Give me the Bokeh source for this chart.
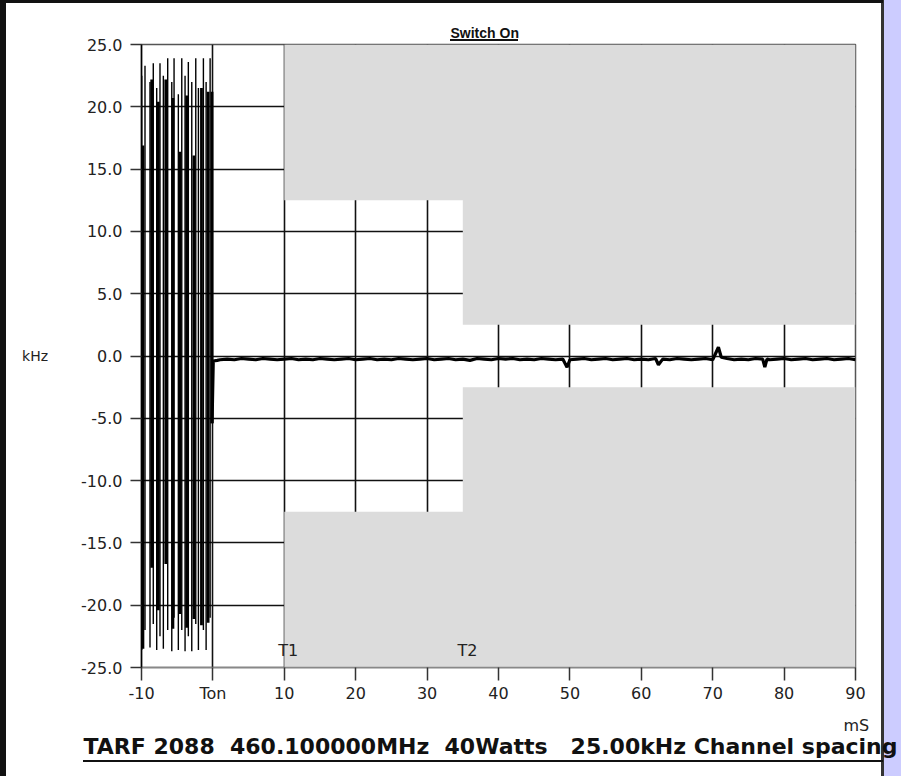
from bokeh.plotting import figure
from bokeh.models import Label, Range1d, FixedTicker, NumeralTickFormatter, Title, InlineStyleSheet
from bokeh.embed import file_html
from bokeh.resources import INLINE

# ---------------- data ----------------
# display columns of the oscillation before switch-on (ms, kHz): min/max per column
bar_t  = [-9.80, -8.57, -7.64, -6.60, -5.60, -4.61, -3.67, -2.66, -1.60, -0.67, -0.12]
bar_lo = [-23.5, -17.0, -20.4, -16.7, -21.9, -20.7, -21.8, -21.1, -21.6, -21.4, -5.4]
bar_hi = [16.9, 22.2, 20.4, 22.2, 20.7, 16.4, 20.9, 16.1, 21.5, 21.2, 21.2]

peak_t  = [-9.51, -8.35, -7.41, -6.33, -5.44, -4.36, -3.44, -2.40, -1.33, -0.39]
peak_lo = [-22.0, -21.5, -22.5, -22.0, -21.0, -22.0, -22.5, -21.5, -22.0, -21.0]
peak_hi = [23.3, 23.5, 23.5, 23.9, 23.9, 23.9, 23.6, 23.9, 23.9, 23.9]

trough_t  = [-9.97, -8.81, -7.87, -6.94, -5.76, -4.84, -3.90, -2.96, -2.03, -0.95]
trough_lo = [-23.6, -23.4, -23.6, -23.5, -23.7, -23.6, -23.7, -23.7, -23.6, -23.6]
trough_hi = [22.5, 22.0, 21.5, 22.5, 22.0, 21.0, 22.5, 22.0, 21.5, 22.0]

# settled deviation after switch-on (ms, kHz)
after_t = [-0.12, 0.05, 0.6, 1, 2, 3, 4, 5, 6, 7, 8, 9, 10, 11, 12, 13, 14, 15, 16, 17, 18, 19, 20,
           21, 22, 23, 24, 25, 26, 27, 28, 29, 30, 31, 32, 33, 34, 35, 36, 37, 38, 39, 40,
           41, 42, 43, 44, 45, 46, 47, 48, 49, 49.6, 50, 51, 52, 53, 54, 55, 56, 57, 58, 59, 60,
           61, 62, 62.4, 63, 64, 65, 66, 67, 68, 69, 70, 70.8, 71.2, 72, 73, 74, 75, 76, 77, 77.3, 77.6,
           78, 79, 80, 81, 82, 83, 84, 85, 86, 87, 88, 89, 90]
after_v = [-5.4, -0.4, -0.35, -0.3, -0.25, -0.3, -0.2, -0.25, -0.3, -0.2, -0.25, -0.3, -0.25, -0.2, -0.3, -0.25, -0.3, -0.2, -0.25, -0.3, -0.25, -0.2, -0.3,
           -0.25, -0.2, -0.3, -0.25, -0.3, -0.2, -0.25, -0.3, -0.25, -0.2, -0.3, -0.25, -0.2, -0.3, -0.25, -0.35, -0.2, -0.25, -0.3, -0.2,
           -0.25, -0.2, -0.3, -0.25, -0.3, -0.2, -0.25, -0.3, -0.25, -0.9, -0.3, -0.25, -0.2, -0.3, -0.25, -0.2, -0.3, -0.25, -0.2, -0.3, -0.25,
           -0.3, -0.2, -0.7, -0.25, -0.3, -0.2, -0.25, -0.3, -0.25, -0.2, -0.3, 0.7, -0.1, -0.2, -0.3, -0.25, -0.3, -0.2, -0.25, -0.9, -0.25,
           -0.3, -0.25, -0.2, -0.3, -0.25, -0.2, -0.3, -0.25, -0.2, -0.3, -0.25, -0.2, -0.3]

mask_x = [10, 10, 35, 35, 90, 90]
mask_upper_y = [25, 12.5, 12.5, 2.5, 2.5, 25]
mask_lower_y = [-25, -12.5, -12.5, -2.5, -2.5, -25]

x_ticks = [-10, 0, 10, 20, 30, 40, 50, 60, 70, 80, 90]
x_tick_labels = ["-10", "Ton", "10", "20", "30", "40", "50", "60", "70", "80", "90"]
y_ticks = [-25, -20, -15, -10, -5, 0, 5, 10, 15, 20, 25]

marker_names = ["T1", "T2"]
marker_t = [9.15, 34.25]

title_text = "Switch On"
x_unit = "mS"
y_unit = "kHz"
NB = "\u00a0"
footer_text = "TARF 2088 " + NB + "460.100000MHz " + NB + "40Watts " + NB + NB + "25.00kHz Channel spacing"

FONT = "DejaVu Sans"

css = """
:host {
  background-color: white;
  background-image:
    linear-gradient(#111, #111),
    linear-gradient(#111, #111),
    linear-gradient(#111, #111),
    linear-gradient(#111, #111),
    linear-gradient(#333, #333),
    linear-gradient(#ccccff, #ccccff);
  background-size: 68px 2px, 800px 2px, 883px 3px, 6px 776px, 3px 776px, 17px 776px;
  background-position: 450px 39px, 83px 760px, 0 0, 0 0, 881px 0, 884px 0;
  background-repeat: no-repeat;
}
"""

p = figure(width=901, height=776, title=None,
           x_range=Range1d(-10, 90), y_range=Range1d(-25, 25),
           output_backend="svg", toolbar_location=None,
           min_border_left=141, min_border_right=46,
           min_border_top=44, min_border_bottom=109,
           stylesheets=[InlineStyleSheet(css=css)])

p.background_fill_color = "white"
p.border_fill_alpha = 0.0
p.outline_line_color = "#555555"
p.outline_line_width = 1.5

p.xgrid.ticker = FixedTicker(ticks=x_ticks)
p.ygrid.ticker = FixedTicker(ticks=y_ticks)
for g in (p.xgrid, p.ygrid):
    g.grid_line_color = "#111111"
    g.grid_line_width = 1.6

p.patch(mask_x, mask_upper_y, fill_color="#dcdcdc", line_color=None)
p.patch(mask_x, mask_lower_y, fill_color="#dcdcdc", line_color=None)

# oscillation drawn as min/max display columns
p.segment(x0=trough_t, y0=trough_lo, x1=trough_t, y1=trough_hi, line_color="black", line_width=1.4)
p.segment(x0=peak_t, y0=peak_lo, x1=peak_t, y1=peak_hi, line_color="black", line_width=1.4)
p.segment(x0=bar_t, y0=bar_lo, x1=bar_t, y1=bar_hi, line_color="black", line_width=2.8)

p.line(after_t, after_v, line_color="black", line_width=3.2)

xa = p.xaxis[0]
xa.ticker = FixedTicker(ticks=x_ticks)
xa.major_label_overrides = dict(zip(x_ticks, x_tick_labels))
xa.axis_line_color = "#888888"
xa.axis_line_width = 1.5
xa.major_tick_in = 0
xa.major_tick_out = 13
xa.major_tick_line_color = "#333333"
xa.major_tick_line_width = 1.5
xa.minor_tick_line_color = None
xa.major_label_standoff = 3
xa.major_label_text_font = FONT
xa.major_label_text_font_size = "16px"
xa.major_label_text_color = "#222222"

ya = p.yaxis[0]
ya.ticker = FixedTicker(ticks=y_ticks)
ya.formatter = NumeralTickFormatter(format="0.0")
ya.axis_line_color = "black"
ya.axis_line_width = 1.5
ya.major_tick_in = 0
ya.major_tick_out = 11
ya.major_tick_line_color = "#333333"
ya.major_tick_line_width = 1.5
ya.minor_tick_line_color = None
ya.major_label_standoff = 8
ya.major_label_text_font = FONT
ya.major_label_text_font_size = "16px"
ya.major_label_text_color = "#222222"
ya.axis_label = y_unit
ya.axis_label_orientation = "horizontal"
ya.axis_label_standoff = 30
ya.axis_label_text_font = FONT
ya.axis_label_text_font_size = "14px"
ya.axis_label_text_font_style = "normal"
ya.axis_label_text_color = "#222222"

for name, t in zip(marker_names, marker_t):
    p.add_layout(Label(x=t, y=-23.65, text=name, text_font=FONT, text_font_size="16px",
                       text_color="#222222", text_baseline="alphabetic"))

p.add_layout(Title(text=title_text, align="left", offset=309, text_font="Liberation Sans",
                   text_font_size="14px", text_font_style="bold", text_color="#111111",
                   standoff=8), "above")
p.add_layout(Title(text=x_unit, align="left", offset=702, text_font=FONT,
                   text_font_size="16px", text_font_style="normal", text_color="#222222",
                   standoff=17), "below")
p.add_layout(Title(text=footer_text, align="left", offset=-58, text_font=FONT,
                   text_font_size="22px", text_font_style="bold", text_color="#111111",
                   standoff=-24), "below")

open("out.html", "w").write(file_html(p, INLINE))
